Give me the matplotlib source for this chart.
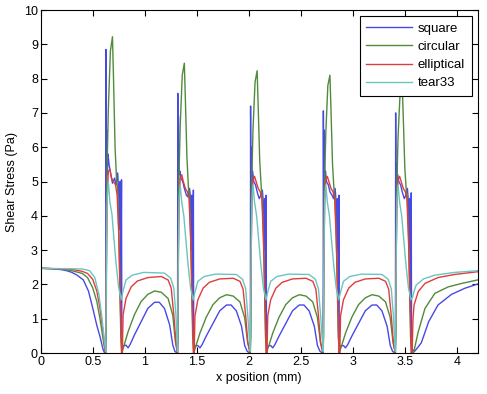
import matplotlib
matplotlib.use('Agg')
import matplotlib.pyplot as plt
import matplotlib.ticker as mtick

plt.rcParams.update({
    'font.family': 'Liberation Sans',
    'font.size': 9,
    'xtick.direction': 'in',
    'ytick.direction': 'in',
    'xtick.top': True,
    'ytick.right': True,
})

# %% dados (x em mm, tensão em Pa)
square_x = [
    0, 0.1, 0.2, 0.25, 0.3, 0.35, 0.41, 0.46, 0.505, 0.54, 0.57, 0.6, 0.615,
    0.625, 0.627, 0.630, 0.633, 0.637, 0.641, 0.647, 0.657, 0.675, 0.690, 0.710, 0.725, 0.740, 0.750, 0.757, 0.763, 0.770, 0.777, 0.780,
    0.790, 0.820, 0.840, 0.860, 0.900, 0.965, 1.030, 1.095, 1.140, 1.190, 1.240, 1.270, 1.290, 1.310,
    1.316, 1.318, 1.321, 1.324, 1.328, 1.332, 1.338, 1.348, 1.366, 1.381, 1.401, 1.416, 1.431, 1.441, 1.448, 1.454, 1.461, 1.468, 1.471,
    1.481, 1.511, 1.531, 1.551, 1.591, 1.656, 1.721, 1.786, 1.831, 1.881, 1.931, 1.961, 1.985, 2.010,
    2.016, 2.018, 2.021, 2.024, 2.028, 2.032, 2.038, 2.048, 2.066, 2.081, 2.101, 2.116, 2.131, 2.141, 2.148, 2.154, 2.161, 2.168, 2.171,
    2.181, 2.211, 2.231, 2.251, 2.291, 2.356, 2.421, 2.486, 2.531, 2.581, 2.631, 2.661, 2.685, 2.710,
    2.716, 2.718, 2.721, 2.724, 2.728, 2.732, 2.738, 2.748, 2.766, 2.781, 2.801, 2.816, 2.831, 2.841, 2.848, 2.854, 2.861, 2.868, 2.871,
    2.881, 2.911, 2.931, 2.951, 2.991, 3.056, 3.121, 3.186, 3.231, 3.281, 3.331, 3.361, 3.383, 3.405,
    3.411, 3.413, 3.416, 3.419, 3.423, 3.427, 3.433, 3.443, 3.461, 3.476, 3.496, 3.511, 3.526, 3.536, 3.543, 3.549, 3.556, 3.563, 3.566,
    3.575, 3.595, 3.615, 3.64, 3.66, 3.73, 3.82, 3.95, 4.08, 4.2,
]
square_y = [
    2.47, 2.46, 2.43, 2.40, 2.35, 2.27, 2.13, 1.80, 1.25, 0.80, 0.48, 0.10, 0.0,
    0, 8.85, 4.4, 6.1, 6.5, 5.2, 5.8, 5.5, 5.2, 4.95, 5.1, 4.9, 5.25, 4.7, 3.6, 5.0, 1.5, 5.05, 0.0,
    0.2, 0.23, 0.15, 0.25, 0.52, 0.91, 1.30, 1.48, 1.48, 1.30, 0.82, 0.23, 0.05, 0.0,
    0, 7.57, 4.2, 6.9, 6.0, 5.2, 5.3, 5.1, 5.0, 4.8, 4.6, 4.55, 4.8, 4.5, 3.0, 4.6, 1.2, 4.75, 0.0,
    0.2, 0.22, 0.15, 0.24, 0.49, 0.86, 1.23, 1.40, 1.40, 1.23, 0.78, 0.22, 0.05, 0.0,
    0, 7.2, 4.3, 6.0, 5.6, 5.0, 5.3, 5.0, 4.9, 4.7, 4.5, 4.6, 4.75, 4.4, 3.0, 4.5, 1.2, 4.6, 0.0,
    0.2, 0.22, 0.15, 0.24, 0.49, 0.86, 1.23, 1.40, 1.40, 1.23, 0.78, 0.22, 0.05, 0.0,
    0, 7.06, 4.3, 6.5, 5.8, 5.1, 5.3, 5.0, 4.9, 4.7, 4.6, 4.5, 4.8, 4.4, 3.0, 4.5, 1.2, 4.6, 0.0,
    0.2, 0.22, 0.15, 0.24, 0.49, 0.86, 1.23, 1.40, 1.40, 1.23, 0.78, 0.22, 0.05, 0.0,
    0, 7.0, 4.5, 5.2, 5.5, 4.9, 5.2, 5.0, 4.9, 4.7, 4.5, 4.6, 4.8, 4.4, 3.0, 4.5, 1.2, 4.67, 0.0,
    0.1, 0.05, 0.12, 0.22, 0.30, 0.91, 1.40, 1.71, 1.89, 2.01,
]

circular_x = [
    0, 0.2, 0.3, 0.4, 0.45, 0.5, 0.54, 0.57, 0.6, 0.622,
    0.630, 0.635, 0.650, 0.670, 0.690, 0.700, 0.715, 0.730, 0.740, 0.755, 0.770, 0.780,
    0.840, 0.900, 0.965, 1.030, 1.095, 1.160, 1.225, 1.270, 1.295, 1.315,
    1.321, 1.326, 1.341, 1.361, 1.381, 1.391, 1.406, 1.421, 1.431, 1.446, 1.461, 1.471,
    1.531, 1.591, 1.656, 1.721, 1.786, 1.851, 1.916, 1.961, 1.990, 2.014,
    2.021, 2.026, 2.041, 2.061, 2.081, 2.091, 2.106, 2.121, 2.131, 2.146, 2.161, 2.171,
    2.231, 2.291, 2.356, 2.421, 2.486, 2.551, 2.616, 2.661, 2.690, 2.714,
    2.721, 2.726, 2.741, 2.761, 2.781, 2.791, 2.806, 2.821, 2.831, 2.846, 2.861, 2.871,
    2.931, 2.991, 3.056, 3.121, 3.186, 3.251, 3.316, 3.361, 3.388, 3.409,
    3.416, 3.421, 3.436, 3.456, 3.476, 3.486, 3.501, 3.516, 3.526, 3.541, 3.556, 3.566,
    3.585, 3.63, 3.695, 3.79, 3.92, 4.05, 4.2,
]
circular_y = [
    2.47, 2.45, 2.40, 2.32, 2.20, 1.90, 1.50, 1.00, 0.40, 0.0,
    0.5, 4.9, 7.1, 8.8, 9.22, 8.0, 6.0, 5.0, 4.8, 3.0, 0.5, 0.0,
    0.62, 1.11, 1.50, 1.71, 1.81, 1.77, 1.59, 1.10, 0.32, 0.0,
    0.5, 4.7, 6.6, 8.1, 8.45, 7.4, 5.7, 4.8, 4.6, 2.9, 0.5, 0.0,
    0.58, 1.04, 1.41, 1.61, 1.70, 1.66, 1.49, 1.03, 0.30, 0.0,
    0.5, 4.6, 6.5, 7.9, 8.23, 7.2, 5.6, 4.8, 4.5, 2.9, 0.5, 0.0,
    0.58, 1.04, 1.41, 1.61, 1.70, 1.66, 1.49, 1.03, 0.30, 0.0,
    0.5, 4.6, 6.4, 7.8, 8.10, 7.1, 5.5, 4.7, 4.5, 2.9, 0.5, 0.0,
    0.58, 1.04, 1.41, 1.61, 1.70, 1.66, 1.49, 1.03, 0.30, 0.0,
    0.5, 4.5, 6.3, 7.6, 7.85, 6.9, 5.4, 4.7, 4.5, 2.9, 0.5, 0.0,
    0.0, 0.62, 1.30, 1.74, 1.93, 2.03, 2.13,
]

elliptical_x = [
    0, 0.3, 0.4, 0.45, 0.5, 0.54, 0.57, 0.6, 0.622,
    0.633, 0.640, 0.650, 0.665, 0.680, 0.700, 0.720, 0.735, 0.750, 0.765, 0.777,
    0.785, 0.792, 0.820, 0.870, 0.930, 1.030, 1.160, 1.225, 1.255, 1.280, 1.300, 1.315,
    1.324, 1.331, 1.341, 1.356, 1.371, 1.391, 1.411, 1.426, 1.441, 1.456, 1.468,
    1.476, 1.483, 1.511, 1.561, 1.621, 1.721, 1.851, 1.916, 1.946, 1.971, 1.991, 2.014,
    2.024, 2.031, 2.041, 2.056, 2.071, 2.091, 2.111, 2.126, 2.141, 2.156, 2.168,
    2.176, 2.183, 2.211, 2.261, 2.321, 2.421, 2.551, 2.616, 2.646, 2.671, 2.691, 2.714,
    2.724, 2.731, 2.741, 2.756, 2.771, 2.791, 2.811, 2.826, 2.841, 2.856, 2.868,
    2.876, 2.883, 2.911, 2.961, 3.021, 3.121, 3.251, 3.316, 3.346, 3.371, 3.391, 3.409,
    3.419, 3.426, 3.436, 3.451, 3.466, 3.486, 3.506, 3.521, 3.536, 3.551, 3.563,
    3.571, 3.58, 3.59, 3.63, 3.695, 3.82, 3.98, 4.2,
]
elliptical_y = [
    2.47, 2.44, 2.38, 2.32, 2.15, 1.80, 1.30, 0.60, 0.0,
    3.0, 4.5, 5.3, 5.35, 5.1, 5.0, 4.9, 4.6, 3.5, 1.5, 0.0,
    0.0, 1.11, 1.59, 1.93, 2.10, 2.20, 2.23, 2.13, 1.89, 1.10, 0.32, 0.0,
    3.0, 4.4, 5.1, 5.2, 5.0, 4.8, 4.7, 4.5, 3.4, 1.5, 0.0,
    0.0, 1.08, 1.55, 1.89, 2.06, 2.16, 2.18, 2.09, 1.86, 1.08, 0.32, 0.0,
    3.0, 4.4, 5.05, 5.15, 5.0, 4.8, 4.7, 4.5, 3.4, 1.5, 0.0,
    0.0, 1.08, 1.55, 1.89, 2.06, 2.16, 2.18, 2.09, 1.86, 1.08, 0.32, 0.0,
    3.0, 4.4, 5.05, 5.15, 5.0, 4.8, 4.7, 4.5, 3.4, 1.5, 0.0,
    0.0, 1.08, 1.55, 1.89, 2.06, 2.16, 2.18, 2.09, 1.86, 1.08, 0.32, 0.0,
    3.0, 4.4, 5.05, 5.15, 5.0, 4.8, 4.7, 4.5, 3.4, 1.5, 0.0,
    0.0, 1.0, 1.40, 1.79, 2.03, 2.20, 2.29, 2.37,
]

tear33_x = [
    0, 0.4, 0.47, 0.52, 0.56, 0.59, 0.61, 0.625,
    0.633, 0.640, 0.650, 0.665, 0.685, 0.705, 0.725, 0.750, 0.775,
    0.790, 0.820, 0.880, 0.990, 1.190, 1.250, 1.280, 1.300, 1.312, 1.316,
    1.324, 1.331, 1.341, 1.356, 1.376, 1.396, 1.416, 1.441, 1.466,
    1.481, 1.511, 1.571, 1.681, 1.881, 1.941, 1.971, 1.991, 2.009, 2.016,
    2.024, 2.031, 2.041, 2.056, 2.076, 2.096, 2.116, 2.141, 2.166,
    2.181, 2.211, 2.271, 2.381, 2.581, 2.641, 2.671, 2.691, 2.709, 2.716,
    2.724, 2.731, 2.741, 2.756, 2.776, 2.796, 2.816, 2.841, 2.866,
    2.881, 2.911, 2.971, 3.081, 3.281, 3.341, 3.371, 3.391, 3.405, 3.411,
    3.419, 3.426, 3.436, 3.451, 3.471, 3.491, 3.511, 3.536, 3.561,
    3.575, 3.59, 3.61, 3.68, 3.79, 3.98, 4.2,
]
tear33_y = [
    2.47, 2.45, 2.40, 2.20, 1.70, 1.00, 0.40, 0.05,
    3.0, 4.6, 5.0, 4.4, 4.05, 3.3, 2.6, 1.9, 1.55,
    1.79, 2.13, 2.27, 2.35, 2.33, 2.18, 1.89, 1.10, 0.30, 0.05,
    3.0, 4.5, 4.9, 4.4, 4.0, 3.3, 2.6, 1.9, 1.55,
    1.75, 2.09, 2.23, 2.30, 2.29, 2.15, 1.87, 1.10, 0.30, 0.05,
    3.0, 4.5, 4.9, 4.4, 4.0, 3.3, 2.6, 1.9, 1.55,
    1.75, 2.09, 2.23, 2.30, 2.29, 2.15, 1.87, 1.10, 0.30, 0.05,
    3.0, 4.5, 4.9, 4.4, 4.0, 3.3, 2.6, 1.9, 1.55,
    1.75, 2.09, 2.23, 2.30, 2.29, 2.15, 1.87, 1.10, 0.30, 0.05,
    3.0, 4.5, 4.9, 4.4, 4.0, 3.3, 2.6, 1.9, 1.55,
    1.62, 1.80, 1.98, 2.16, 2.27, 2.35, 2.40,
]

series = [
    ('square', square_x, square_y, '#4848e6'),
    ('circular', circular_x, circular_y, '#4f8c3a'),
    ('elliptical', elliptical_x, elliptical_y, '#e03c3c'),
    ('tear33', tear33_x, tear33_y, '#6cc4c0'),
]

# %% gráfico
fig = plt.figure(figsize=(4.87, 3.94), dpi=100)
ax = fig.add_axes([0.0836, 0.104, 0.8969, 0.8706])

for nome, xs, ys, cor in series:
    ax.plot(xs, ys, color=cor, linewidth=1.0, label=nome)

ax.set_xlim(0, 4.2)
ax.set_ylim(0, 10)
ax.set_xticks([0, 0.5, 1, 1.5, 2, 2.5, 3, 3.5, 4])
ax.set_yticks(range(0, 11))
fmt = mtick.FuncFormatter(lambda v, _: f'{v:g}')
ax.xaxis.set_major_formatter(fmt)
ax.yaxis.set_major_formatter(fmt)
ax.tick_params(length=4, width=0.8, labelsize=9, pad=2)
for s in ax.spines.values():
    s.set_linewidth(0.8)

ax.set_xlabel('x position (mm)', fontsize=9, labelpad=3)
ax.set_ylabel('Shear Stress (Pa)', fontsize=9, labelpad=4)

leg = ax.legend(loc='upper right', fontsize=9.5, fancybox=False, framealpha=1,
                edgecolor='black', handlelength=3.5, handletextpad=0.4,
                labelspacing=0.45, borderpad=0.5, borderaxespad=0.45)
leg.get_frame().set_linewidth(0.8)

fig.savefig('out.png', dpi=100)
